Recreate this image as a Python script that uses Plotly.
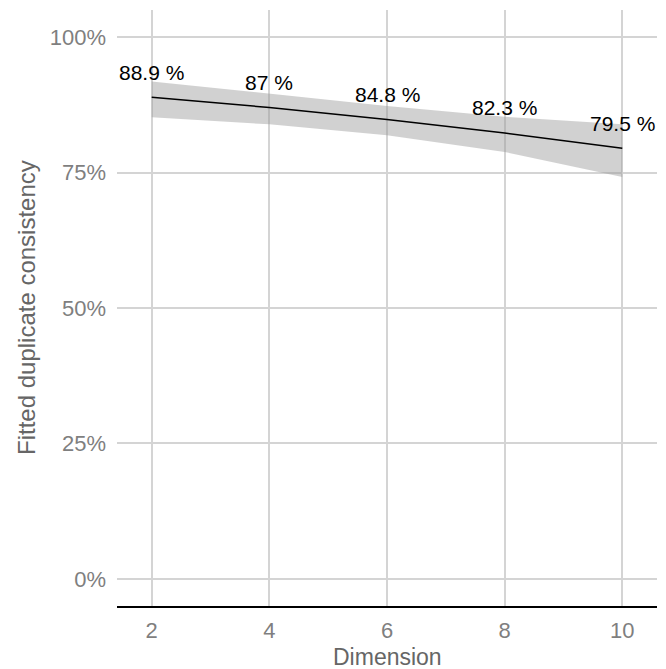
import plotly.graph_objects as go

dimension = [2, 4, 6, 8, 10]
fitted = [88.9, 87.0, 84.8, 82.3, 79.5]
lower = [85.2, 83.9, 81.9, 78.8, 74.2]
upper = [91.8, 89.6, 87.3, 85.3, 83.9]
labels = ["88.9 %", "87 %", "84.8 %", "82.3 %", "79.5 %"]
y_ticks = [0, 25, 50, 75, 100]
y_ticklabels = ["0%", "25%", "50%", "75%", "100%"]
x_ticks = [2, 4, 6, 8, 10]

FONT = "Liberation Sans, Arial, sans-serif"
# the page body has an 8px default margin; compensate so the plot lands in place
OFF = 8
W, H = 666 - OFF, 669 - OFF
L, R, T, B = 117 - OFF, 9, 10 - OFF, 63
PW = W - L - R
PH = H - T - B

fig = go.Figure()
fig.add_trace(go.Scatter(
    x=dimension + dimension[::-1],
    y=upper + lower[::-1],
    fill="toself", fillcolor="rgba(153,153,153,0.45)",
    line=dict(width=0), mode="lines", hoverinfo="skip", showlegend=False))
fig.add_trace(go.Scatter(
    x=dimension, y=fitted, mode="lines",
    line=dict(color="black", width=1.5), showlegend=False))

for xv, yv, t in zip(dimension, fitted, labels):
    fig.add_annotation(x=xv, y=yv, text=t, showarrow=False, yshift=25,
                       font=dict(family=FONT, size=21, color="black"))

# axis titles
fig.add_annotation(xref="paper", yref="paper", x=(26 - OFF - L) / PW, y=0.5,
                   text="Fitted duplicate consistency", textangle=-90,
                   showarrow=False, xanchor="center", yanchor="middle",
                   font=dict(family=FONT, size=24, color="#666666"))
fig.add_annotation(xref="paper", yref="paper", x=0.5, y=-(657 - OFF - (H - B)) / PH,
                   text="Dimension", showarrow=False,
                   xanchor="center", yanchor="middle",
                   font=dict(family=FONT, size=23, color="#666666"))

fig.update_layout(
    width=W, height=H,
    margin=dict(l=L, r=R, t=T, b=B),
    plot_bgcolor="white", paper_bgcolor="white",
    font=dict(family=FONT),
)
fig.update_xaxes(
    range=[1.41, 10.59], tickvals=x_ticks, automargin=False,
    showgrid=True, gridcolor="#d4d4d4", gridwidth=1.5,
    zeroline=False, showline=True, linecolor="black", linewidth=2,
    tickfont=dict(size=22, color="#7f7f7f"), ticklabelstandoff=4,
)
fig.update_yaxes(
    range=[-5, 105], tickvals=y_ticks, ticktext=y_ticklabels, automargin=False,
    showgrid=True, gridcolor="#d4d4d4", gridwidth=1.5,
    zeroline=False, showline=False,
    tickfont=dict(size=22, color="#7f7f7f"), ticklabelstandoff=10,
)

fig.write_html("out.html")
